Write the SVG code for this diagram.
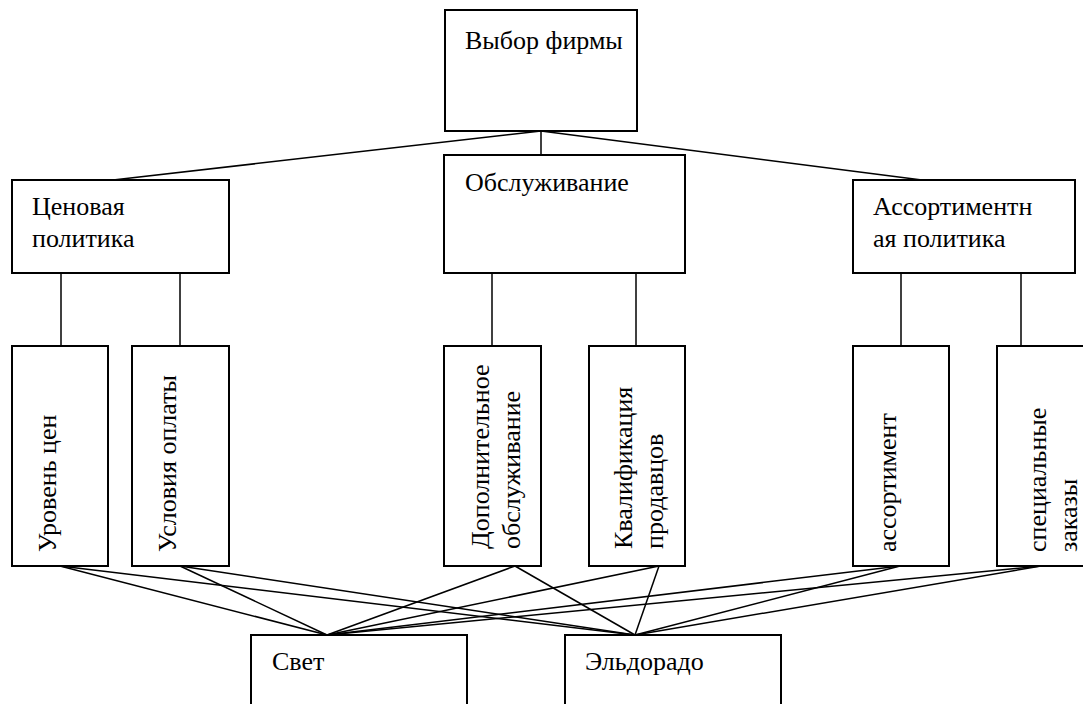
<svg xmlns="http://www.w3.org/2000/svg" width="1083" height="704" viewBox="0 0 1083 704" font-family="Times New Roman, Tinos, Liberation Serif, FreeSerif, serif" font-size="26">
<style>
.box{fill:#fff;stroke:#000;stroke-width:2}
.ln{stroke:#000;stroke-width:1.5}
</style>
<rect x="0" y="0" width="1083" height="704" fill="#fff"/>
<g id="connectors">
<line class="ln" x1="541" y1="131" x2="113" y2="180"/>
<line class="ln" x1="541" y1="131" x2="541" y2="155"/>
<line class="ln" x1="541" y1="131" x2="922" y2="180"/>
<line class="ln" x1="61" y1="273" x2="61" y2="346"/>
<line class="ln" x1="180" y1="273" x2="180" y2="346"/>
<line class="ln" x1="492" y1="273" x2="492" y2="346"/>
<line class="ln" x1="636" y1="273" x2="636" y2="346"/>
<line class="ln" x1="901" y1="273" x2="901" y2="346"/>
<line class="ln" x1="1021" y1="273" x2="1021" y2="346"/>
<line class="ln" x1="60" y1="566" x2="327" y2="635"/>
<line class="ln" x1="60" y1="566" x2="635" y2="635"/>
<line class="ln" x1="180" y1="566" x2="327" y2="635"/>
<line class="ln" x1="180" y1="566" x2="635" y2="635"/>
<line class="ln" x1="515" y1="566" x2="327" y2="635"/>
<line class="ln" x1="515" y1="566" x2="635" y2="635"/>
<line class="ln" x1="659" y1="566" x2="327" y2="635"/>
<line class="ln" x1="659" y1="566" x2="635" y2="635"/>
<line class="ln" x1="900" y1="566" x2="327" y2="635"/>
<line class="ln" x1="900" y1="566" x2="635" y2="635"/>
<line class="ln" x1="1041" y1="566" x2="327" y2="635"/>
<line class="ln" x1="1041" y1="566" x2="635" y2="635"/>
</g>
<g id="vybor">
<rect class="box" x="445" y="10" width="192" height="121"/>
<text x="465" y="49">Выбор фирмы</text>
</g>
<g id="cenovaya">
<rect class="box" x="12" y="180" width="217" height="93"/>
<text x="32" y="215">Ценовая</text>
<text x="32" y="247">политика</text>
</g>
<g id="obsluzhivanie">
<rect class="box" x="444" y="155" width="241" height="118"/>
<text x="465" y="191">Обслуживание</text>
</g>
<g id="assortpolitika">
<rect class="box" x="853" y="180" width="222" height="93"/>
<text x="873" y="215">Ассортиментн</text>
<text x="873" y="247">ая политика</text>
</g>
<g id="uroven">
<rect class="box" x="12" y="346" width="96" height="220"/>
<text transform="translate(56,552) rotate(-90)">Уровень цен</text>
</g>
<g id="usloviya">
<rect class="box" x="132" y="346" width="97" height="220"/>
<text transform="translate(176,552) rotate(-90)">Условия оплаты</text>
</g>
<g id="dopoln">
<rect class="box" x="444" y="346" width="97" height="220"/>
<text transform="translate(489,549) rotate(-90)">Дополнительное</text>
<text transform="translate(520,549) rotate(-90)">обслуживание</text>
</g>
<g id="kvalif">
<rect class="box" x="589" y="346" width="96" height="220"/>
<text transform="translate(632,549) rotate(-90)">Квалификация</text>
<text transform="translate(663,549) rotate(-90)">продавцов</text>
</g>
<g id="assortiment">
<rect class="box" x="853" y="346" width="96" height="220"/>
<text transform="translate(896,552) rotate(-90)">ассортимент</text>
</g>
<g id="specialnye">
<rect class="box" x="997" y="346" width="96" height="220"/>
<text transform="translate(1046,552) rotate(-90)">специальные</text>
<text transform="translate(1077,552) rotate(-90)">заказы</text>
</g>
<g id="svet">
<rect class="box" x="251" y="635" width="216" height="80"/>
<text x="272" y="670">Свет</text>
</g>
<g id="eldorado">
<rect class="box" x="565" y="635" width="216" height="80"/>
<text x="585" y="670">Эльдорадо</text>
</g>
</svg>
